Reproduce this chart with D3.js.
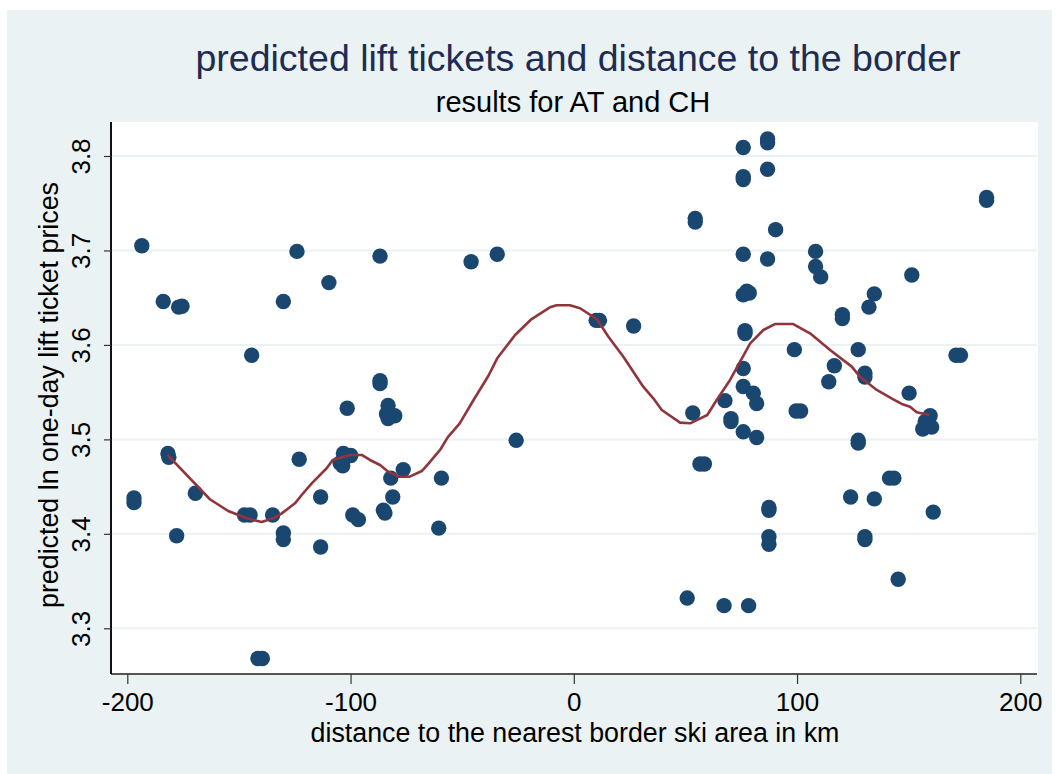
<!DOCTYPE html>
<html>
<head>
<meta charset="utf-8">
<script src="https://cdn.jsdelivr.net/npm/d3@7"></script>
<style>
  body { margin: 0; background: #fff; }
  text { font-family: "Liberation Sans", Arial, sans-serif; }
</style>
</head>
<body>
<svg id="chart" width="1063" height="774"></svg>
<script>
// distance to the nearest border ski area (km) and predicted ln price
const dist = [
  -193.5, -183.9, -177.0, -175.5, -144.3, -130.1, -124.0, -109.7, -86.8, -86.8,
  -86.8, -101.5, -83.2, -83.9, -80.2, -83.2, -181.8, -181.4, -197.0, -197.0,
  -177.9, -169.5, -147.5, -145.0, -134.9, -130.1, -130.1, -123.0, -113.4, -113.4,
  -103.2, -99.9, -104.7, -103.5, -99.0, -96.5, -85.3, -84.6, -81.1, -82.0,
  -76.4, -141.5, -139.5, -46.0, -34.3, 10.0, 11.5, 26.8, 54.4, 54.4,
  -59.3, -60.5, -25.8, 53.3, 56.5, 58.5, 50.8, 67.3, 75.9, 86.8,
  86.8, 86.8, 75.9, 75.9, 90.4, 184.9, 184.9, 75.9, 86.8, 75.9,
  78.6, 77.5, 108.3, 108.3, 110.6, 134.6, 132.2, 151.4, 120.3, 120.3,
  76.7, 76.7, 98.8, 127.4, 116.7, 114.2, 130.4, 130.4, 75.9, 75.9,
  80.4, 81.9, 171.2, 173.2, 150.2, 99.6, 101.6, 70.4, 70.4, 67.7,
  75.9, 81.9, 127.4, 127.4, 159.6, 157.4, 156.3, 160.3, 141.4, 143.4,
  124.0, 134.6, 161.0, 87.4, 87.4, 87.4, 87.4, 130.4, 130.4, 145.3,
  78.3
];
const lnPrice = [
  3.705, 3.646, 3.640, 3.641, 3.589, 3.646, 3.699, 3.666, 3.694, 3.562,
  3.559, 3.533, 3.536, 3.527, 3.525, 3.522, 3.485, 3.481, 3.438, 3.433,
  3.398, 3.443, 3.420, 3.420, 3.420, 3.401, 3.394, 3.479, 3.439, 3.386,
  3.485, 3.483, 3.475, 3.472, 3.420, 3.415, 3.425, 3.422, 3.439, 3.459,
  3.468, 3.268, 3.268, 3.688, 3.696, 3.626, 3.626, 3.620, 3.734, 3.730,
  3.459, 3.406, 3.499, 3.528, 3.474, 3.474, 3.332, 3.324, 3.809, 3.818,
  3.814, 3.786, 3.778, 3.775, 3.722, 3.756, 3.753, 3.696, 3.691, 3.653,
  3.655, 3.657, 3.699, 3.683, 3.672, 3.654, 3.640, 3.674, 3.632, 3.628,
  3.615, 3.612, 3.595, 3.595, 3.578, 3.561, 3.570, 3.566, 3.575, 3.556,
  3.549, 3.538, 3.589, 3.589, 3.549, 3.530, 3.530, 3.522, 3.519, 3.541,
  3.508, 3.502, 3.499, 3.496, 3.525, 3.519, 3.511, 3.513, 3.459, 3.459,
  3.439, 3.437, 3.423, 3.428, 3.425, 3.397, 3.389, 3.397, 3.394, 3.352,
  3.324
];

// smoothed fit
const fitX = [
  -182, -163, -154.8, -146.5, -139.8, -134.6, -130.8, -124.9, -121.9, -117.4,
  -110.7, -108, -100.2, -95, -91.3, -86.8, -83.1, -78.6, -73.5, -68.1,
  -65, -59.9, -56.5, -51.1, -44.9, -38.3, -34.3, -26.3, -18.9, -10.7,
  -7.7, -1.7, 2.8, 10.3, 15.5, 22.2, 31.1, 35.6, 39.4, 47.6,
  52.1, 59.8, 64, 70, 79, 84.9, 90.1, 98.3, 105.8, 114.8,
  124.5, 128.2, 135.7, 143.1, 146.9, 150.6, 153.6, 159.2
];
const fitY = [
  3.4835, 3.4366, 3.4242, 3.4165, 3.4125, 3.4165, 3.4217, 3.4323, 3.4411, 3.4535,
  3.4694, 3.4782, 3.4835, 3.4835, 3.4782, 3.4729, 3.4658, 3.4605, 3.4605, 3.4665,
  3.4747, 3.4888, 3.5022, 3.5170, 3.5417, 3.5671, 3.5858, 3.6105, 3.6274, 3.6398,
  3.6420, 3.6420, 3.6388, 3.6274, 3.6087, 3.5875, 3.5558, 3.5435, 3.5311, 3.5177,
  3.5170, 3.5258, 3.5417, 3.5629, 3.6017, 3.6158, 3.6221, 3.6221, 3.6123, 3.5946,
  3.5770, 3.5664, 3.5523, 3.5424, 3.5375, 3.5346, 3.5287, 3.5258
];

const xTicks = [-200, -100, 0, 100, 200];
const yTicks = [3.3, 3.4, 3.5, 3.6, 3.7, 3.8];

const titleText = "predicted lift tickets and distance to the border";
const subtitleText = "results for AT and CH";
const xTitle = "distance to the nearest border ski area in km";
const yTitle = "predicted ln one-day lift ticket prices";

const svg = d3.select("#chart");
const plot = { left: 111, top: 122, right: 1038, bottom: 674 };

// outer graph region
svg.append("rect")
  .attr("x", 7).attr("y", 10)
  .attr("width", 1045).attr("height", 764)
  .attr("fill", "#eaf2f3");

// plot region
svg.append("rect")
  .attr("x", plot.left).attr("y", plot.top)
  .attr("width", plot.right - plot.left).attr("height", plot.bottom - plot.top)
  .attr("fill", "#ffffff");

const xScale = d3.scaleLinear().domain([-200, 200]).range([127.3, 1020.3]);
const yScale = d3.scaleLinear().domain([3.3, 3.8]).range([628.3, 156]);

// grid lines
svg.append("g")
  .selectAll("line")
  .data(yTicks)
  .join("line")
  .attr("x1", plot.left + 1).attr("x2", plot.right - 1)
  .attr("y1", d => yScale(d)).attr("y2", d => yScale(d))
  .attr("stroke", "#eaf2f3")
  .attr("stroke-width", 2);

// points
svg.append("g")
  .selectAll("circle")
  .data(d3.zip(dist, lnPrice))
  .join("circle")
  .attr("cx", d => xScale(d[0]))
  .attr("cy", d => yScale(d[1]))
  .attr("r", 7.7)
  .attr("fill", "#1a476f");

// fitted line
const fitLine = d3.line()
  .x(d => xScale(d[0]))
  .y(d => yScale(d[1]));

svg.append("path")
  .datum(d3.zip(fitX, fitY))
  .attr("fill", "none")
  .attr("stroke", "#90353b")
  .attr("stroke-width", 2.6)
  .attr("stroke-linejoin", "round")
  .attr("d", fitLine);

// X axis
const xAxis = svg.append("g")
  .attr("transform", `translate(0, ${plot.bottom})`)
  .call(d3.axisBottom(xScale).tickValues(xTicks).tickSize(10).tickSizeOuter(0)
    .tickFormat(d3.format("d")));
xAxis.select(".domain")
  .attr("d", `M${plot.left},0H${plot.right - 1}`)
  .attr("stroke", "#555")
  .attr("stroke-width", 2);
xAxis.selectAll(".tick line").attr("stroke", "#333").attr("stroke-width", 1.2);
xAxis.selectAll(".tick text")
  .attr("font-size", 26)
  .attr("fill", "#000")
  .attr("font-family", "Liberation Sans, Arial, sans-serif")
  .attr("y", 37)
  .attr("dy", null)
  .text(d => d < 0 ? "-" + Math.abs(d) : d);

// Y axis
const yAxis = svg.append("g")
  .attr("transform", `translate(${plot.left}, 0)`)
  .call(d3.axisLeft(yScale).tickValues(yTicks).tickSize(7).tickSizeOuter(0)
    .tickFormat(d3.format(".1f")));
yAxis.select(".domain")
  .attr("d", `M0,${plot.top}V${plot.bottom}`)
  .attr("stroke", "#111")
  .attr("stroke-width", 2);
yAxis.selectAll(".tick line").attr("stroke", "#333").attr("stroke-width", 1.2);
yAxis.selectAll(".tick text")
  .attr("font-size", 26)
  .attr("fill", "#000")
  .attr("font-family", "Liberation Sans, Arial, sans-serif")
  .attr("text-anchor", "middle")
  .attr("dy", null)
  .attr("x", null)
  .attr("transform", "translate(-21, 0) rotate(-90)");

// titles
svg.append("text")
  .attr("x", 578).attr("y", 71)
  .attr("text-anchor", "middle")
  .attr("font-size", 37.5)
  .attr("fill", "#1e2c54")
  .text(titleText);

svg.append("text")
  .attr("x", 573).attr("y", 112)
  .attr("text-anchor", "middle")
  .attr("font-size", 29)
  .attr("fill", "#000")
  .text(subtitleText);

svg.append("text")
  .attr("x", 575).attr("y", 742)
  .attr("text-anchor", "middle")
  .attr("font-size", 26.8)
  .attr("fill", "#000")
  .text(xTitle);

svg.append("text")
  .attr("transform", "translate(58, 395) rotate(-90)")
  .attr("text-anchor", "middle")
  .attr("font-size", 26.8)
  .attr("fill", "#000")
  .text(yTitle);
</script>
</body>
</html>
